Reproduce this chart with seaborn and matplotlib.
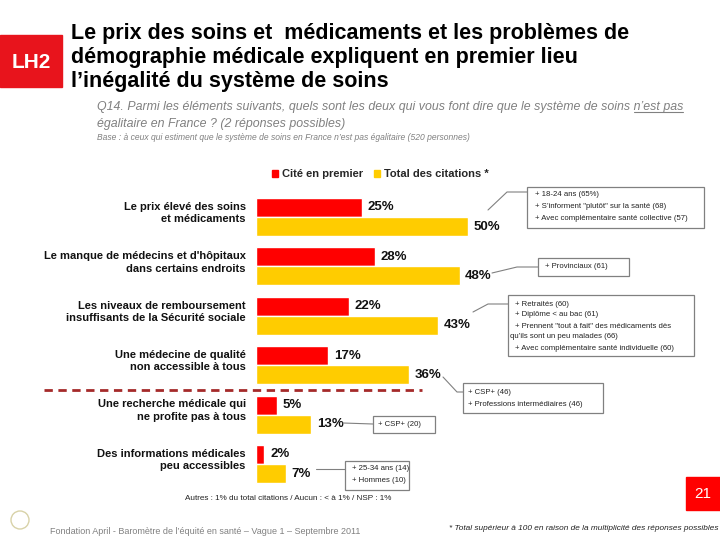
import matplotlib
matplotlib.use("Agg")
import matplotlib.pyplot as plt
from matplotlib.lines import Line2D
from matplotlib.patches import Rectangle, Ellipse
import pandas as pd
import seaborn as sns

# data
categories = [
    "Le prix élevé des soins\net médicaments",
    "Le manque de médecins et d'hôpitaux\ndans certains endroits",
    "Les niveaux de remboursement\ninsuffisants de la Sécurité sociale",
    "Une médecine de qualité\nnon accessible à tous",
    "Une recherche médicale qui\nne profite pas à tous",
    "Des informations médicales\npeu accessibles",
]
series = ["Cité en premier", "Total des citations *"]
premier = [25, 28, 22, 17, 5, 2]
total = [50, 48, 43, 36, 13, 7]

RED = "#FF0000"
YELLOW = "#FFCC00"
GREY = "#808080"

sns.set_style("white")
plt.rcParams["font.family"] = ["Liberation Sans", "DejaVu Sans"]

df = pd.DataFrame({
    "cat": categories * 2,
    "serie": [series[0]] * 6 + [series[1]] * 6,
    "val": premier + total,
})

W, H = 720, 540
fig = plt.figure(figsize=(7.2, 5.4), dpi=100)
renderer = fig.canvas.get_renderer()


def fx(x):
    return x / W


def fy(y):
    return 1 - y / H


def fit(t, width_px):
    # scale the font so the text spans the width seen on the slide
    w = t.get_window_extent(renderer).width
    t.set_fontsize(t.get_fontsize() * width_px / w)
    return t.get_fontsize()


# axes placed so that bars start at x=256px, 4.24px per percent
top, bottom = 192.3, 488.7
ax = fig.add_axes([fx(256), fy(bottom), 424 / W, (bottom - top) / H])
sns.barplot(data=df, y="cat", x="val", hue="serie", hue_order=series,
            palette=[RED, YELLOW], width=0.77, orient="h", ax=ax,
            saturation=1, legend=False)
ax.set_xlim(0, 100)
ax.set_ylim(5.5, -0.5)
ax.axis("off")

for cont in ax.containers:
    ax.bar_label(cont, fmt="%d%%", padding=4, fontsize=9.5,
                 fontweight="bold", color="#111111")

for i, lab in enumerate(categories):
    ax.text(-2.4, i - 0.08, lab, ha="right", va="center", fontsize=8,
            fontweight="bold", linespacing=1.3, color="#111111")

# legend
handles = [Rectangle((0, 0), 1, 1, color=RED), Rectangle((0, 0), 1, 1, color=YELLOW)]
fig.legend(handles, series, loc="center", bbox_to_anchor=(fx(380), fy(174)),
           ncol=2, frameon=False, handlelength=0.6, handleheight=0.6,
           handletextpad=0.3, columnspacing=1.0,
           prop={"weight": "bold", "size": 8})

# title block
fig.add_artist(Rectangle((fx(0), fy(87)), 62 / W, 52 / H, transform=fig.transFigure,
                         color="#E8141C"))
fig.text(fx(31), fy(62), "LH2", ha="center", va="center", color="white",
         fontsize=15, fontweight="bold")
title = ["Le prix des soins et  médicaments et les problèmes de",
         "démographie médicale expliquent en premier lieu",
         "l’inégalité du système de soins"]
for k, t in enumerate(title):
    fig.text(fx(71), fy(34 + 24 * k), t, ha="left", va="center", fontsize=15.5,
             fontweight="bold", color="black")

q1 = "Q14. Parmi les éléments suivants, quels sont les deux qui vous font dire que le système de soins "
qa = fig.text(fx(97), fy(107), q1 + "n’est pas", ha="left", va="center", fontsize=9,
              style="italic", color=GREY)
size = fit(qa, 586)
qb = fig.text(fx(97), fy(124), "égalitaire en France ? (2 réponses possibles)", ha="left",
              va="center", fontsize=size, style="italic", color=GREY)
tmp = fig.text(0, 0, q1, fontsize=size, style="italic")
pre = tmp.get_window_extent(renderer).width
tmp.remove()
bb = qa.get_window_extent(renderer)
x0 = (bb.x0 + pre) / fig.bbox.width
x1 = bb.x1 / fig.bbox.width
yl = (bb.y0 + 1.5) / fig.bbox.height
fig.add_artist(Line2D([x0, x1], [yl, yl], transform=fig.transFigure, color=GREY, lw=0.8))

base = fig.text(fx(97), fy(138),
                "Base : à ceux qui estiment que le système de soins en France n’est pas égalitaire (520 personnes)",
                ha="left", va="center", fontsize=7, style="italic", color=GREY)
fit(base, 373)

# dashed separator
fig.add_artist(Line2D([fx(44), fx(422)], [fy(390), fy(390)], transform=fig.transFigure,
                      color="#A52A2A", lw=2, linestyle=(0, (3, 2))))

# annotation boxes: (x0, y0, x1, y1), text lines (x, y, text), connector points
boxes = [
    ((527, 187, 704, 228),
     [(535, 195, "+ 18-24 ans (65%)"),
      (535, 207, "+ S’informent \"plutôt\" sur la santé (68)"),
      (535, 219, "+ Avec complémentaire santé collective (57)")],
     [(488, 210), (507, 192), (527, 192)]),
    ((538, 258, 629, 276),
     [(545, 267, "+ Provinciaux (61)")],
     [(492, 273), (517, 267), (538, 267)]),
    ((508, 295, 694, 356),
     [(515, 304, "+ Retraités (60)"),
      (515, 315, "+ Diplôme < au bac (61)"),
      (515, 326, "+ Prennent \"tout à fait\" des médicaments dès"),
      (510, 336, "qu’ils sont un peu malades (66)"),
      (515, 348, "+ Avec complémentaire santé individuelle (60)")],
     [(473, 312), (488, 304), (508, 304)]),
    ((463, 383, 603, 413),
     [(468, 392, "+ CSP+ (46)"),
      (468, 404, "+ Professions intermédiaires (46)")],
     [(443, 377), (457, 392), (463, 392)]),
    ((373, 416, 435, 433),
     [(378, 424, "+ CSP+ (20)")],
     [(343, 423), (373, 424)]),
    ((345, 461, 409, 490),
     [(352, 469, "+ 25-34 ans (14)"),
      (352, 481, "+ Hommes (10)")],
     [(316, 469), (345, 469)]),
]
probe = fig.text(0, 0, "+ Avec complémentaire santé collective (57)", fontsize=6)
box_size = fit(probe, 155)
probe.remove()
for (x0, y0, x1, y1), lines, pts in boxes:
    fig.add_artist(Rectangle((fx(x0), fy(y1)), (x1 - x0) / W, (y1 - y0) / H,
                             transform=fig.transFigure, fill=False,
                             edgecolor=GREY, lw=0.9))
    for x, y, t in lines:
        fig.text(fx(x), fy(y), t, ha="left", va="center", fontsize=box_size,
                 color="#222222")
    fig.add_artist(Line2D([fx(p[0]) for p in pts], [fy(p[1]) for p in pts],
                          transform=fig.transFigure, color=GREY, lw=0.8))

# footer
t = fig.text(fx(185), fy(499), "Autres : 1% du total citations / Aucun : < à 1% / NSP : 1%",
             ha="left", va="center", fontsize=6, color="#222222")
fit(t, 208)
t = fig.text(fx(50), fy(531),
             "Fondation April - Baromètre de l’équité en santé – Vague 1 – Septembre 2011",
             ha="left", va="center", fontsize=7, color=GREY)
fit(t, 310)
t = fig.text(fx(449), fy(529),
             "* Total supérieur à 100 en raison de la multiplicité des réponses possibles",
             ha="left", va="center", fontsize=6, style="italic", color="#222222")
fit(t, 269)
fig.add_artist(Rectangle((fx(686), fy(510)), 34 / W, 33 / H, transform=fig.transFigure,
                         color=RED))
fig.text(fx(703), fy(494), "21", ha="center", va="center", fontsize=11,
         color="white")
# small emblem of the foundation
fig.add_artist(Ellipse((fx(20), fy(520)), 18 / W, 18 / H, transform=fig.transFigure,
                       fill=False, edgecolor="#D8D2A8", lw=1))

fig.savefig("out.png", dpi=100)
